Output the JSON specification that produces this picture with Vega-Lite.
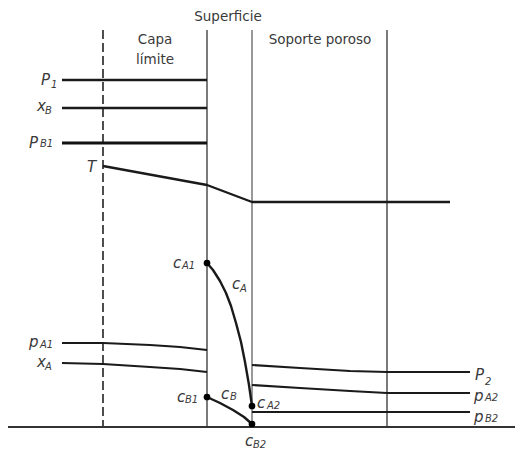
{
  "$schema": "https://vega.github.io/schema/vega-lite/v6.json",
  "width": 515,
  "height": 449,
  "padding": 0,
  "autosize": {"type": "none"},
  "background": "white",
  "config": {"view": {"stroke": null}},
  "datasets": {
    "fronteras": [
      {"id": "borde capa", "x": 103, "y": 30, "y2": 427},
      {"id": "superficie", "x": 207, "y": 30, "y2": 427},
      {"id": "membrana", "x": 252, "y": 30, "y2": 427},
      {"id": "soporte", "x": 387, "y": 30, "y2": 427}
    ],
    "perfilesGruesos": [
      {"id": "P1", "o": 1, "x": 62, "y": 80}, {"id": "P1", "o": 2, "x": 207, "y": 80},
      {"id": "xB", "o": 1, "x": 62, "y": 108}, {"id": "xB", "o": 2, "x": 207, "y": 108},
      {"id": "T", "o": 1, "x": 103, "y": 166}, {"id": "T", "o": 2, "x": 207, "y": 185},
      {"id": "T", "o": 3, "x": 252, "y": 202}, {"id": "T", "o": 4, "x": 450, "y": 202},
      {"id": "cA", "o": 1, "x": 207, "y": 263}, {"id": "cA", "o": 2, "x": 213, "y": 270},
      {"id": "cA", "o": 3, "x": 220, "y": 281}, {"id": "cA", "o": 4, "x": 226, "y": 293},
      {"id": "cA", "o": 5, "x": 231, "y": 306}, {"id": "cA", "o": 6, "x": 236, "y": 323},
      {"id": "cA", "o": 7, "x": 241, "y": 342}, {"id": "cA", "o": 8, "x": 245, "y": 362},
      {"id": "cA", "o": 9, "x": 249, "y": 385}, {"id": "cA", "o": 10, "x": 252, "y": 406},
      {"id": "cB", "o": 1, "x": 207, "y": 397}, {"id": "cB", "o": 2, "x": 220, "y": 403},
      {"id": "cB", "o": 3, "x": 233, "y": 410}, {"id": "cB", "o": 4, "x": 244, "y": 417},
      {"id": "cB", "o": 5, "x": 252, "y": 424}
    ],
    "perfilP": [
      {"id": "PB1", "o": 1, "x": 62, "y": 143}, {"id": "PB1", "o": 2, "x": 207, "y": 143}
    ],
    "perfilesFinos": [
      {"id": "pA1", "o": 1, "x": 62, "y": 343}, {"id": "pA1", "o": 2, "x": 103, "y": 343},
      {"id": "pA1", "o": 3, "x": 150, "y": 345}, {"id": "pA1", "o": 4, "x": 180, "y": 347},
      {"id": "pA1", "o": 5, "x": 207, "y": 350},
      {"id": "xA", "o": 1, "x": 62, "y": 363}, {"id": "xA", "o": 2, "x": 103, "y": 364},
      {"id": "xA", "o": 3, "x": 150, "y": 367}, {"id": "xA", "o": 4, "x": 180, "y": 369},
      {"id": "xA", "o": 5, "x": 207, "y": 372},
      {"id": "P2", "o": 1, "x": 252, "y": 365}, {"id": "P2", "o": 2, "x": 300, "y": 368},
      {"id": "P2", "o": 3, "x": 350, "y": 371}, {"id": "P2", "o": 4, "x": 387, "y": 372},
      {"id": "P2", "o": 5, "x": 470, "y": 372},
      {"id": "pA2", "o": 1, "x": 252, "y": 385}, {"id": "pA2", "o": 2, "x": 300, "y": 388},
      {"id": "pA2", "o": 3, "x": 350, "y": 391}, {"id": "pA2", "o": 4, "x": 387, "y": 393},
      {"id": "pA2", "o": 5, "x": 470, "y": 393},
      {"id": "pB2", "o": 1, "x": 252, "y": 412}, {"id": "pB2", "o": 2, "x": 470, "y": 412}
    ],
    "base": [
      {"id": "eje", "o": 1, "x": 8, "y": 427}, {"id": "eje", "o": 2, "x": 515, "y": 427}
    ],
    "puntos": [
      {"id": "cA1", "x": 207, "y": 263},
      {"id": "cA2", "x": 252, "y": 406},
      {"id": "cB1", "x": 207, "y": 397},
      {"id": "cB2", "x": 252, "y": 424}
    ],
    "titulos": [
      {"t": "Superficie", "x": 228, "y": 17},
      {"t": "Capa", "x": 155, "y": 40},
      {"t": "límite", "x": 155, "y": 60},
      {"t": "Soporte poroso", "x": 320, "y": 40}
    ],
    "simbolos": [
      {"t": "P", "x": 41, "y": 80}, {"t": "x", "x": 37, "y": 106},
      {"t": "P", "x": 29, "y": 143}, {"t": "T", "x": 87, "y": 167},
      {"t": "c", "x": 173, "y": 263}, {"t": "c", "x": 232, "y": 284},
      {"t": "p", "x": 29, "y": 342}, {"t": "x", "x": 37, "y": 362},
      {"t": "c", "x": 177, "y": 397}, {"t": "c", "x": 221, "y": 394},
      {"t": "c", "x": 257, "y": 403}, {"t": "c", "x": 245, "y": 441},
      {"t": "P", "x": 475, "y": 375}, {"t": "p", "x": 474, "y": 396},
      {"t": "p", "x": 474, "y": 417}
    ],
    "subindices": [
      {"t": "1", "x": 51, "y": 85}, {"t": "B", "x": 45, "y": 111},
      {"t": "B1", "x": 40, "y": 144},
      {"t": "A1", "x": 182, "y": 266}, {"t": "A", "x": 240, "y": 289},
      {"t": "A1", "x": 40, "y": 345}, {"t": "A", "x": 45, "y": 367},
      {"t": "B1", "x": 185, "y": 400}, {"t": "B", "x": 230, "y": 397},
      {"t": "A2", "x": 267, "y": 406}, {"t": "B2", "x": 253, "y": 445},
      {"t": "2", "x": 485, "y": 382}, {"t": "A2", "x": 485, "y": 398},
      {"t": "B2", "x": 485, "y": 419}
    ]
  },
  "encoding": {
    "x": {"field": "x", "type": "quantitative", "scale": {"domain": [0, 515], "nice": false, "zero": false}, "axis": null},
    "y": {"field": "y", "type": "quantitative", "scale": {"domain": [449, 0], "nice": false, "zero": false}, "axis": null}
  },
  "layer": [
    {
      "data": {"name": "fronteras"},
      "transform": [{"filter": "datum.id == 'borde capa'"}],
      "mark": {"type": "rule", "stroke": "#222", "strokeWidth": 1.6, "strokeDash": [9, 4]},
      "encoding": {"y2": {"field": "y2"}}
    },
    {
      "data": {"name": "fronteras"},
      "transform": [{"filter": "datum.id == 'superficie' || datum.id == 'soporte'"}],
      "mark": {"type": "rule", "stroke": "#333", "strokeWidth": 1.3},
      "encoding": {"y2": {"field": "y2"}}
    },
    {
      "data": {"name": "fronteras"},
      "transform": [{"filter": "datum.id == 'membrana'"}],
      "mark": {"type": "rule", "stroke": "#777", "strokeWidth": 1.5},
      "encoding": {"y2": {"field": "y2"}}
    },
    {
      "data": {"name": "base"},
      "mark": {"type": "line", "stroke": "#333", "strokeWidth": 1.8},
      "encoding": {"detail": {"field": "id"}, "order": {"field": "o"}}
    },
    {
      "data": {"name": "perfilesGruesos"},
      "mark": {"type": "line", "stroke": "#1a1a1a", "strokeWidth": 2.4, "strokeJoin": "round"},
      "encoding": {"detail": {"field": "id"}, "order": {"field": "o"}}
    },
    {
      "data": {"name": "perfilP"},
      "mark": {"type": "line", "stroke": "#111", "strokeWidth": 3},
      "encoding": {"detail": {"field": "id"}, "order": {"field": "o"}}
    },
    {
      "data": {"name": "perfilesFinos"},
      "mark": {"type": "line", "stroke": "#1a1a1a", "strokeWidth": 2, "strokeJoin": "round"},
      "encoding": {"detail": {"field": "id"}, "order": {"field": "o"}}
    },
    {
      "data": {"name": "puntos"},
      "mark": {"type": "point", "filled": true, "color": "#000", "size": 45, "opacity": 1}
    },
    {
      "data": {"name": "titulos"},
      "mark": {"type": "text", "font": "DejaVu Sans", "fontSize": 13.5, "color": "#3a3a3a", "align": "center", "baseline": "middle"},
      "encoding": {"text": {"field": "t"}}
    },
    {
      "data": {"name": "simbolos"},
      "mark": {"type": "text", "font": "DejaVu Sans", "fontSize": 15, "fontStyle": "italic", "color": "#3a3a3a", "align": "left", "baseline": "middle"},
      "encoding": {"text": {"field": "t"}}
    },
    {
      "data": {"name": "subindices"},
      "mark": {"type": "text", "font": "DejaVu Sans", "fontSize": 10, "fontStyle": "italic", "color": "#3a3a3a", "align": "left", "baseline": "middle"},
      "encoding": {"text": {"field": "t"}}
    }
  ]
}
